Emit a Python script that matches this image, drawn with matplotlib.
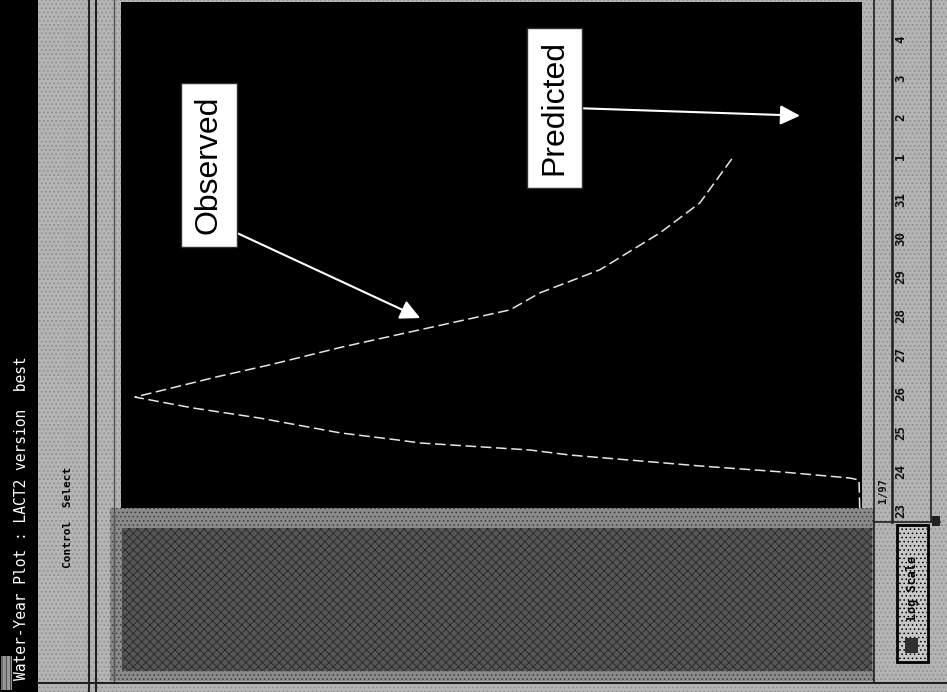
import matplotlib
matplotlib.use("Agg")
import matplotlib.pyplot as plt
from matplotlib.patches import Rectangle
from matplotlib.lines import Line2D

obs_time = [0.0, 0.72, 0.77, 0.93, 1.08, 1.36, 1.49, 1.67, 1.75, 1.93, 2.31, 2.57, 2.85,
            3.37, 3.68, 4.14, 4.58, 5.09, 5.53, 6.12, 7.07, 7.84, 9.02]
obs_flow = [25, 32, 130, 885, 1750, 3150, 3585, 4770, 5020, 5635, 6500, 7225, 7850,
            6965, 6390, 5605, 4770, 3800, 3475, 2830, 2180, 1750, 1390]

day_ticks = list(range(13))
day_labels = ["23", "24", "25", "26", "27", "28", "29", "30", "31", "1", "2", "3", "4"]

# label boxes: (text, box centre time, box centre flow, arrow tip time, arrow tip flow, relpos)
notes = [("Observed", 8.82, 7050, 4.88, 4770, (1.0, 0.05)),
         ("Predicted", 10.28, 3320, 10.08, 670, (1.0, 0.5))]

title = "Water-Year Plot : LACT2 version  best"

W, H = 947, 692
plt.rcParams['hatch.linewidth'] = 0.6

fig = plt.figure(figsize=(W / 100, H / 100), dpi=100)
fig.patch.set_facecolor('#b4b4b4')


def rect(x0, y0, x1, y1, fc, hatch=None, hc='#8c8c8c', z=-5, ec=None, lw=0):
    r = Rectangle((x0 / W, 1 - y1 / H), (x1 - x0) / W, (y1 - y0) / H,
                  transform=fig.transFigure, facecolor=fc, hatch=hatch,
                  edgecolor=ec if ec else hc, linewidth=lw, zorder=z)
    fig.add_artist(r)


def vline(x, y0, y1, c='#202020', lw=1.2):
    fig.add_artist(Line2D([x / W, x / W], [1 - y0 / H, 1 - y1 / H],
                          transform=fig.transFigure, color=c, lw=lw, zorder=-1))


def hline(y, x0, x1, c='#202020', lw=1.2):
    fig.add_artist(Line2D([x0 / W, x1 / W], [1 - y / H, 1 - y / H],
                          transform=fig.transFigure, color=c, lw=lw, zorder=-1))


# window background, stippled like the scan
rect(0, 0, W, H, '#b4b4b4', hatch='....', hc='#8a8a8a', z=-10)

# title bar
rect(0, 0, 38, H, 'black', z=-4)
rect(1, 656, 12, 690, '#9a9a9a', hatch='||||', hc='#303030', z=-3)
fig.text(22 / W, 1 - 680 / H, title, rotation=90, color='white', ha='center', va='bottom',
         fontsize=10.5, family='DejaVu Sans Mono')

# menu bar
fig.text(68 / W, 1 - 568 / H, "Control  Select", rotation=90, color='black',
         ha='center', va='bottom', fontsize=8, family='DejaVu Sans Mono', fontweight='bold')
vline(89, 0, H, lw=1.5)
vline(96, 0, H, lw=1.5)
vline(114, 0, 682, c='#505050', lw=1)

# lower (empty) panel
rect(110, 508, 874, 681, '#8a8a8a', hatch='....', hc='#3c3c3c', z=-4)
rect(122, 528, 872, 671, '#565656', hatch='xxxx', hc='#262626', z=-3)
hline(683, 38, W, lw=1.5)

# right strip (time axis + Log Scale button)
vline(874, 0, 682, lw=1.2)
vline(892, 0, 522, lw=1.8)
vline(931, 0, 522, lw=1.2)
hline(522, 874, 940, lw=1.2)
rect(897, 525, 928, 662, '#c8c8c8', hatch='....', hc='#9a9a9a', z=-3, ec='black', lw=2)
fig.text(912 / W, 1 - 620 / H, "Log Scale", rotation=90, color='black', ha='center',
         va='bottom', fontsize=8.5, family='DejaVu Sans Mono', fontweight='bold')
rect(905, 638, 918, 653, '#303030', z=-2)
rect(932, 516, 940, 526, '#202020', z=-2)
fig.text(883 / W, 1 - 503 / H, "1/97", rotation=90, color='#101010', ha='center',
         va='bottom', fontsize=7.5, family='DejaVu Sans Mono', fontweight='bold')

# plot area
ax = fig.add_axes([121 / W, 1 - 508 / H, (862 - 121) / W, (508 - 2) / H])
ax.set_facecolor('black')
for s in ax.spines.values():
    s.set_visible(False)
ax.set_xlim(8000, 0)
ax.set_ylim(0, 13)
ax.set_xticks([])
ax.yaxis.tick_right()
ax.set_yticks(day_ticks)
ax.set_yticklabels(day_labels, family='DejaVu Sans Mono', fontweight='bold', fontsize=9)
ax.tick_params(axis='y', length=0, pad=23, labelrotation=90, labelcolor='#101010')

ax.plot(obs_flow, obs_time, color='#e6e6e6', lw=1.1, linestyle=(0, (7, 3)))

for txt, bt, bf, at, af, rp in notes:
    ax.annotate(txt, xy=(af, at), xytext=(bf, bt), rotation=90, ha='center', va='center',
                fontsize=23, family='Liberation Sans', color='black',
                bbox=dict(boxstyle='square,pad=0.4', fc='white', ec='#303030', lw=1),
                arrowprops=dict(arrowstyle='-|>', color='white', lw=1.5,
                                mutation_scale=30, relpos=rp, shrinkA=0, shrinkB=0))

plt.savefig('out.png', dpi=100, facecolor=fig.get_facecolor())
